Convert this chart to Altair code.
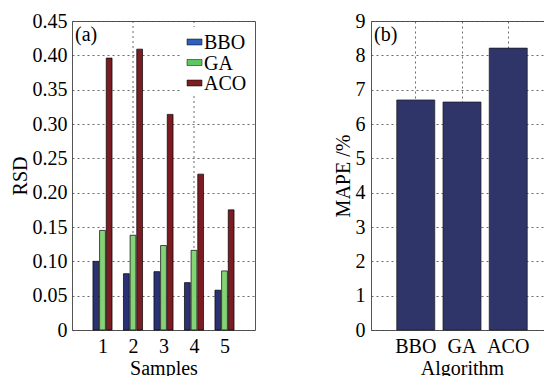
import altair as alt
import pandas as pd

# ---- data ----
samples = [1, 2, 3, 4, 5]
grid_x = [2, 4]
algs = ["BBO", "GA", "ACO"]
rsd_bbo = [0.100, 0.082, 0.085, 0.069, 0.058]
rsd_ga = [0.145, 0.138, 0.123, 0.116, 0.086]
rsd_aco = [0.396, 0.409, 0.314, 0.227, 0.175]
mape = [6.70, 6.64, 8.21]
rsd_ticks = [0, 0.05, 0.10, 0.15, 0.20, 0.25, 0.30, 0.35, 0.40, 0.45]
mape_ticks = [0, 1, 2, 3, 4, 5, 6, 7, 8, 9]
panel_labels = ["(a)", "(b)"]

bar_colors = ["#2b3273", "#86d277", "#7a1c22"]
legend_colors = ["#2f5fbf", "#5ec65e", "#7a1e22"]
FONT = "Liberation Serif"
GRID = "#444444"

rows = []
for alg, vals in zip(algs, [rsd_bbo, rsd_ga, rsd_aco]):
    for s, v in zip(samples, vals):
        rows.append({"sample": s, "alg": alg, "value": v})
df_a = pd.DataFrame(rows)
df_b = pd.DataFrame({"alg": algs, "mape": mape})
df_leg = pd.DataFrame({"series": algs})

OFF = 0.218
HW = 0.095

x_scale_a = alt.Scale(domain=[0, 6], nice=False, zero=False)
x_a = alt.X(
    "x0:Q",
    scale=x_scale_a,
    axis=alt.Axis(
        values=samples,
        title="Samples",
        format="d",
        grid=False,
        labelPadding=6,
        titlePadding=2,
        labelOverlap=False,
    ),
)
y_a = alt.Y(
    "value:Q",
    scale=alt.Scale(domain=[0, 0.45], nice=False),
    axis=alt.Axis(
        values=rsd_ticks,
        title="RSD",
        labelExpr="datum.value == 0 ? '0' : format(datum.value, '.2f')",
        labelPadding=5,
        titlePadding=2,
        labelOverlap=False,
    ),
)

vgrid_a = alt.Chart(pd.DataFrame({"x0": grid_x})).mark_rule(
    color=GRID, strokeDash=[2, 3], strokeWidth=0.8
).encode(x=alt.X("x0:Q", scale=x_scale_a))

bars_a = alt.Chart(df_a).transform_calculate(
    idx="indexof(['BBO','GA','ACO'], datum.alg)",
).transform_calculate(
    x0=f"datum.sample + (datum.idx - 1) * {OFF} - {HW}",
    x1=f"datum.sample + (datum.idx - 1) * {OFF} + {HW}",
).mark_bar(stroke="black", strokeWidth=0.7).encode(
    x=x_a,
    x2="x1:Q",
    y=y_a,
    y2=alt.datum(0),
    fill=alt.Fill("alg:N", scale=alt.Scale(domain=algs, range=bar_colors), legend=None),
)

# legend drawn inside the plot, top right
leg_y = alt.Y(
    "series:N",
    sort=algs,
    scale=alt.Scale(type="point", domain=algs, range=[21, 62], padding=0),
    axis=None,
)
leg_box = alt.Chart(pd.DataFrame({"series": [algs[0]]})).mark_rect(color="white").encode(
    x=alt.value(110), x2=alt.value(183), y=alt.value(6), y2=alt.value(72)
)
leg_sym = alt.Chart(df_leg).mark_point(
    shape="M-1,-0.4H1V0.4H-1Z", size=225, filled=True, opacity=1, stroke="black", strokeWidth=0.5
).encode(
    x=alt.value(122.5),
    y=leg_y,
    color=alt.Color("series:N", scale=alt.Scale(domain=algs, range=legend_colors), legend=None),
)
leg_txt = alt.Chart(df_leg).mark_text(
    align="left", baseline="middle", font=FONT, fontSize=20, color="black", dy=1
).encode(x=alt.value(132), y=leg_y, text="series:N")

text_a = alt.Chart(pd.DataFrame({"t": [panel_labels[0]]})).mark_text(
    align="left", baseline="middle", font=FONT, fontSize=20, color="black"
).encode(text="t:N", x=alt.value(3), y=alt.value(14))

panel_a = alt.layer(vgrid_a, bars_a, leg_box, leg_sym, leg_txt, text_a).resolve_scale(
    y="independent"
).properties(width=183, height=309)

bars_b = alt.Chart(df_b).mark_bar(color="#2f3569", stroke="#1a1a1a", strokeWidth=0.7).encode(
    x=alt.X(
        "alg:N",
        sort=algs,
        scale=alt.Scale(paddingInner=0.178, paddingOuter=0.557),
        axis=alt.Axis(title="Algorithm", labelAngle=0, grid=True, labelPadding=6, titlePadding=2),
    ),
    y=alt.Y(
        "mape:Q",
        scale=alt.Scale(domain=[0, 9], nice=False),
        axis=alt.Axis(values=mape_ticks, title="MAPE /%", labelPadding=6, titlePadding=2,
                      labelOverlap=False),
    ),
)

text_b = alt.Chart(pd.DataFrame({"t": [panel_labels[1]]})).mark_text(
    align="left", baseline="middle", font=FONT, fontSize=20, color="black"
).encode(text="t:N", x=alt.value(3), y=alt.value(14))

panel_b = alt.layer(bars_b, text_b).properties(width=182, height=309)

chart = alt.hconcat(panel_a, panel_b, spacing=76).properties(
    autosize=alt.AutoSizeParams(type="none"),
    padding={"left": 64, "top": 13, "right": 472, "bottom": 335},
    background="white",
).configure_axis(
    labelFont=FONT,
    titleFont=FONT,
    labelFontSize=20,
    titleFontSize=20,
    titleFontWeight="normal",
    labelColor="black",
    titleColor="black",
    domain=False,
    ticks=False,
    gridColor=GRID,
    gridDash=[2, 3],
    gridWidth=0.8,
).configure_view(stroke="#555555", strokeWidth=1)

chart.save("out.html", embed_options={"renderer": "svg", "actions": False})
